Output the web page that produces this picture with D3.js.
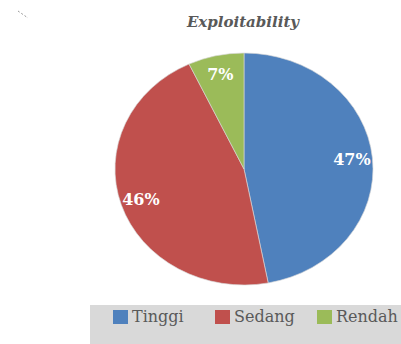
<!DOCTYPE html>
<html>
<head>
<meta charset="utf-8">
<script src="https://cdn.jsdelivr.net/npm/d3@7"></script>
<style>
body{margin:0;background:#fff;}
svg{display:block;}
</style>
</head>
<body>
<svg></svg>
<script>
var categories = ["Tinggi","Sedang","Rendah"]
var values = [47,46,7]
var labels = ["47%","46%","7%"]
var colors = ["#4F81BD","#C0504D","#9BBB59"]

var screen = {width:401,height:344}
var svg = d3.select("svg")
    .attr("width",screen.width)
    .attr("height",screen.height)

// little mark top left
svg.append("line")
    .attr("x1",18).attr("y1",11)
    .attr("x2",28).attr("y2",18)
    .attr("stroke","#999")
    .attr("stroke-width",1)
    .attr("stroke-dasharray","2,2")

// title
svg.append("text")
    .text("Exploitability")
    .attr("x",243)
    .attr("y",27)
    .attr("text-anchor","middle")
    .attr("font-family","'DejaVu Serif', serif")
    .attr("font-weight","bold")
    .attr("font-style","italic")
    .attr("font-size",15)
    .attr("fill","#595959")

var pie = {cx:244,cy:169,rx:129,ry:116}

var arcs = d3.pie().sort(null).value(function(d){return d})(values)
var arc = d3.arc().innerRadius(0).outerRadius(pie.ry)

var plot = svg.append("g")
    .attr("transform","translate("+pie.cx+","+pie.cy+") scale("+(pie.rx/pie.ry)+",1)")

plot.selectAll("path")
    .data(arcs)
    .enter()
    .append("path")
    .attr("d",arc)
    .attr("fill",function(d,i){return colors[i]})
    .attr("stroke","#d8d8d8")
    .attr("stroke-width",0.6)

// labels
var labelArc = d3.arc().innerRadius(pie.ry*0.84).outerRadius(pie.ry*0.84)
svg.append("g")
    .selectAll("text")
    .data(arcs)
    .enter()
    .append("text")
    .text(function(d,i){return labels[i]})
    .attr("x",function(d){return pie.cx+labelArc.centroid(d)[0]*pie.rx/pie.ry})
    .attr("y",function(d){return pie.cy+labelArc.centroid(d)[1]})
    .attr("dy","0.35em")
    .attr("text-anchor","middle")
    .attr("font-family","'DejaVu Serif', serif")
    .attr("font-weight","bold")
    .attr("font-size",16)
    .attr("fill","#fff")

// legend
svg.append("rect")
    .attr("x",90).attr("y",305)
    .attr("width",311).attr("height",39)
    .attr("fill","#d9d9d9")

var legendX = d3.scalePoint()
    .domain(categories)
    .range([113,317])

var entries = svg.append("g")
    .selectAll("g")
    .data(categories)
    .enter()
    .append("g")
    .attr("transform",function(c){return "translate("+legendX(c)+",310)"})

entries.append("rect")
    .attr("width",15)
    .attr("height",14)
    .attr("fill",function(c,i){return colors[i]})

entries.append("text")
    .text(function(c){return c})
    .attr("x",19)
    .attr("y",12)
    .attr("font-family","'DejaVu Serif', serif")
    .attr("font-size",16)
    .attr("fill","#595959")
</script>
</body>
</html>
